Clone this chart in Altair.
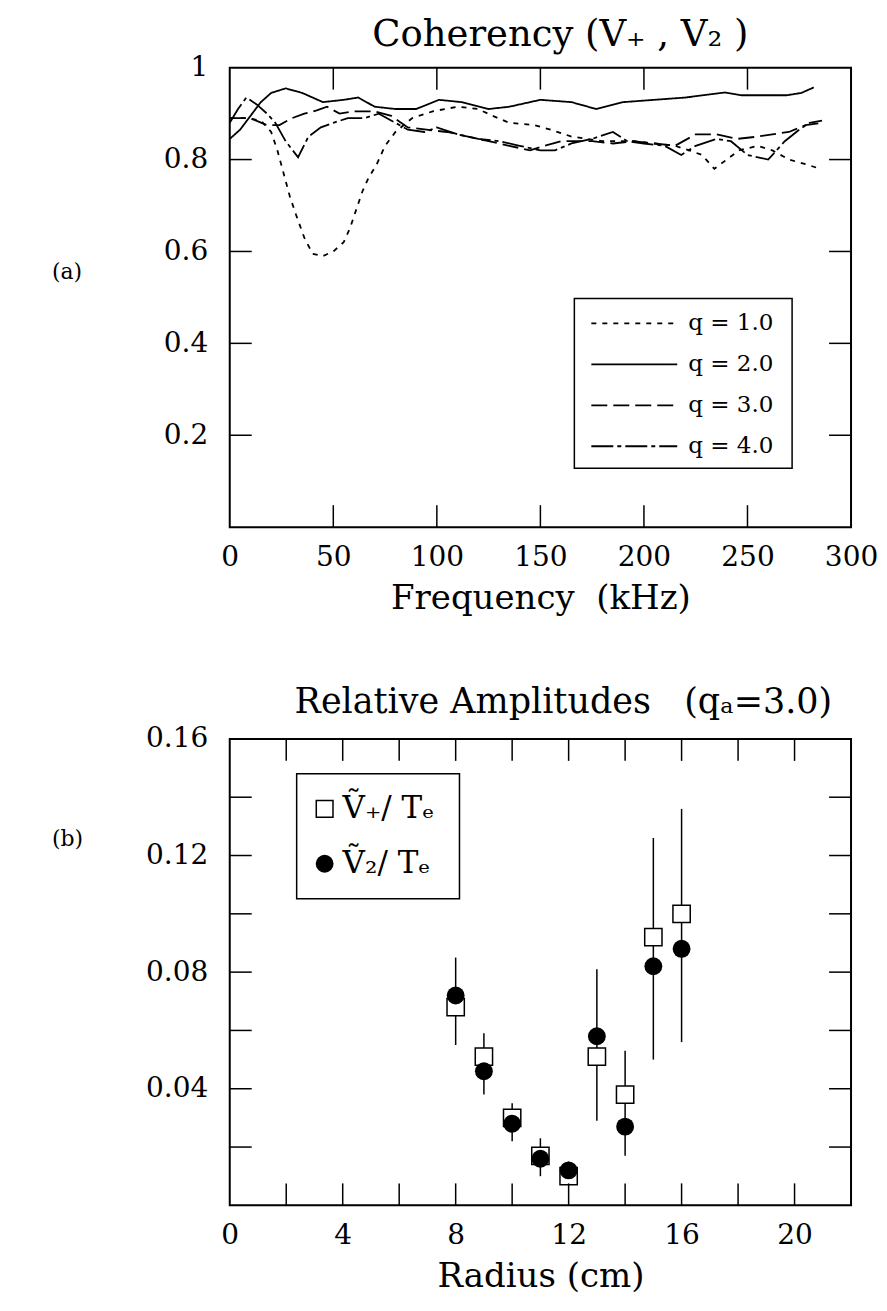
import altair as alt
import pandas as pd

FONT = "DejaVu Serif"

# ---------------- (a) Coherency (V+, V2) ----------------
series_labels = ["q = 1.0", "q = 2.0", "q = 3.0", "q = 4.0"]

q1_f = [0, 8, 15, 20, 23, 26, 29, 32, 36, 40, 45, 50, 55, 58, 61, 64, 67, 71, 75, 80,
        88, 98, 110, 120, 127, 135, 147, 155, 165, 180, 195, 205, 215, 222, 228, 234,
        240, 246, 255, 262, 270, 278, 285]
q1_v = [0.89, 0.89, 0.885, 0.86, 0.82, 0.77, 0.72, 0.68, 0.63, 0.595, 0.59, 0.60, 0.62,
        0.65, 0.69, 0.73, 0.76, 0.79, 0.83, 0.86, 0.89, 0.905, 0.915, 0.91, 0.895, 0.88,
        0.875, 0.865, 0.85, 0.84, 0.84, 0.835, 0.83, 0.82, 0.81, 0.78, 0.80, 0.82, 0.83,
        0.82, 0.80, 0.79, 0.78]

q2_f = [0, 5, 10, 15, 20, 27, 35, 45, 55, 62, 70, 80, 90, 101, 112, 125, 135, 150, 165,
        177, 190, 205, 220, 239, 247, 258, 269, 276, 282]
q2_v = [0.845, 0.865, 0.895, 0.925, 0.945, 0.955, 0.945, 0.925, 0.93, 0.935, 0.915, 0.91,
        0.91, 0.93, 0.925, 0.91, 0.915, 0.93, 0.925, 0.91, 0.925, 0.93, 0.935, 0.946, 0.94,
        0.94, 0.94, 0.945, 0.957]

q3_f = [0, 10, 18, 24, 30, 36, 42, 47, 53, 60, 70, 78, 86, 95, 105, 115, 125, 135, 145,
        152, 160, 175, 185, 195, 205, 215, 225, 235, 245, 255, 262, 270, 278, 286]
q3_v = [0.89, 0.89, 0.875, 0.875, 0.89, 0.90, 0.907, 0.915, 0.90, 0.905, 0.905, 0.895,
        0.87, 0.865, 0.86, 0.85, 0.84, 0.83, 0.82, 0.83, 0.84, 0.84, 0.835, 0.84, 0.835,
        0.83, 0.855, 0.855, 0.845, 0.85, 0.855, 0.86, 0.875, 0.88]

q4_f = [0, 4, 8, 13, 18, 22, 27, 33, 38, 44, 50, 57, 65, 72, 80, 86, 94, 100, 110, 120,
        130, 140, 150, 157, 165, 175, 185, 192, 200, 210, 218, 225, 235, 242, 250, 260,
        268, 275, 280, 286]
q4_v = [0.88, 0.91, 0.935, 0.92, 0.90, 0.88, 0.84, 0.805, 0.85, 0.87, 0.88, 0.89, 0.89,
        0.90, 0.88, 0.865, 0.86, 0.87, 0.855, 0.845, 0.84, 0.83, 0.82, 0.82, 0.835, 0.845,
        0.86, 0.84, 0.835, 0.83, 0.81, 0.83, 0.845, 0.84, 0.81, 0.80, 0.84, 0.865, 0.88,
        0.885]

freq_labels = [0, 50, 100, 150, 200, 250, 300]
freq_ticks = [50, 100, 150, 200, 250]
coh_labels = [0.2, 0.4, 0.6, 0.8, 1.0]
coh_ticks = [0.2, 0.4, 0.6, 0.8]

# ---------------- (b) Relative amplitudes ----------------
radius = [8, 9, 10, 11, 12, 13, 14, 15, 16]
vplus_te = [0.068, 0.051, 0.030, 0.017, 0.010, 0.051, 0.038, 0.092, 0.100]
v2_te = [0.072, 0.046, 0.028, 0.016, 0.012, 0.058, 0.027, 0.082, 0.088]
err_lo = [0.055, 0.038, 0.022, 0.010, 0.008, 0.029, 0.017, 0.050, 0.056]
err_hi = [0.085, 0.059, 0.035, 0.023, 0.015, 0.081, 0.053, 0.126, 0.136]

rad_labels = [0, 4, 8, 12, 16, 20]
rad_ticks = [2, 4, 6, 8, 10, 12, 14, 16, 18, 20]
amp_labels = [0.04, 0.08, 0.12, 0.16]
amp_ticks = [0.02, 0.04, 0.06, 0.08, 0.10, 0.12, 0.14]

# ---------------- styles ----------------
dash_styles = [[5, 6], [1, 0], [16, 6], [22, 4, 4, 4]]
W = 622
H1 = 460
H2 = 467
TICK = 22

rows = []
for lab, fs, vs in zip(series_labels, [q1_f, q2_f, q3_f, q4_f], [q1_v, q2_v, q3_v, q4_v]):
    for i, (f, v) in enumerate(zip(fs, vs)):
        rows.append({"q": lab, "f": f, "v": v, "i": i})
coh = pd.DataFrame(rows)
one = pd.DataFrame({"a": [0]})


def axis_common(**kw):
    base = dict(ticks=False, domain=False, grid=False, labelFont=FONT, labelFontSize=28,
                titleFont=FONT, titleFontSize=34, titleFontWeight="normal",
                labelColor="black", titleColor="black", labelFlush=False)
    base.update(kw)
    return alt.Axis(**base)


def text_at(txt, x, y, size, align="left"):
    return alt.Chart(one).mark_text(align=align, baseline="middle", font=FONT, fontSize=size,
                                    color="black").encode(
        x=alt.value(x), y=alt.value(y), text=alt.value(txt))


xa = alt.X("f:Q", scale=alt.Scale(domain=[0, 300], nice=False),
           axis=axis_common(values=freq_labels, title="Frequency\u00a0\u00a0(kHz)",
                            labelPadding=16, titlePadding=10))
ya = alt.Y("v:Q", scale=alt.Scale(domain=[0, 1], nice=False),
           axis=axis_common(values=coh_labels, title=None, labelPadding=22,
                            labelExpr="datum.value == 1 ? '1' : format(datum.value, '.1f')"))

lines = alt.Chart(coh).mark_line(color="black", strokeWidth=1.8).encode(
    x=xa, y=ya,
    strokeDash=alt.StrokeDash("q:N", scale=alt.Scale(domain=series_labels, range=dash_styles),
                              legend=None),
    detail="q:N", order="i:Q")

fx = pd.DataFrame({"t": freq_ticks})
fy = pd.DataFrame({"t": coh_ticks})
rk = dict(color="black", strokeWidth=1.5)
top_ticks = [
    alt.Chart(fx).mark_rule(**rk).encode(x="t:Q", y=alt.value(H1), y2=alt.value(H1 - TICK)),
    alt.Chart(fx).mark_rule(**rk).encode(x="t:Q", y=alt.value(0), y2=alt.value(TICK)),
    alt.Chart(fy).mark_rule(**rk).encode(y="t:Q", x=alt.value(0), x2=alt.value(TICK)),
    alt.Chart(fy).mark_rule(**rk).encode(y="t:Q", x=alt.value(W), x2=alt.value(W - TICK)),
]

leg_box = alt.Chart(one).mark_rect(fill="white", stroke="black", strokeWidth=1.5).encode(
    x=alt.value(345), x2=alt.value(563), y=alt.value(231), y2=alt.value(401))
leg_layers = [leg_box]
for k, (lab, dash) in enumerate(zip(series_labels, dash_styles)):
    yy = 256 + 41 * k
    leg_layers.append(alt.Chart(one).mark_rule(color="black", strokeWidth=1.8, strokeDash=dash).encode(
        x=alt.value(362), x2=alt.value(448), y=alt.value(yy)))
    leg_layers.append(text_at(lab, 459, yy, 23))

top = alt.layer(
    lines, *top_ticks, *leg_layers,
    text_at("(a)", -178, 205, 22),
    text_at("Coherency (V\u208a , V\u2082 )", W / 2 + 20, -33, 37, align="center"),
).properties(width=W, height=H1)

# ---------------- bottom chart ----------------
amp = pd.DataFrame({"r": radius, "vp": vplus_te, "v2": v2_te, "lo": err_lo, "hi": err_hi})
xb = alt.X("r:Q", scale=alt.Scale(domain=[0, 22], nice=False),
           axis=axis_common(values=rad_labels, title="Radius (cm)",
                            labelPadding=16, titlePadding=10))
yb = alt.Y("lo:Q", scale=alt.Scale(domain=[0, 0.16], nice=False),
           axis=axis_common(values=amp_labels, format=".2f", title=None, labelPadding=22))

bars = alt.Chart(amp).mark_rule(color="black", strokeWidth=1.5).encode(x=xb, y=yb, y2="hi:Q")
squares = alt.Chart(amp).mark_point(shape="square", filled=True, fill="white", stroke="black",
                                    strokeWidth=1.5, size=300, opacity=1).encode(
    x="r:Q", y="vp:Q")
circles = alt.Chart(amp).mark_point(shape="circle", filled=True, fill="black", size=320,
                                    opacity=1).encode(x="r:Q", y="v2:Q")

bx = pd.DataFrame({"t": rad_ticks})
by = pd.DataFrame({"t": amp_ticks})
bot_ticks = [
    alt.Chart(bx).mark_rule(**rk).encode(x="t:Q", y=alt.value(H2), y2=alt.value(H2 - TICK)),
    alt.Chart(bx).mark_rule(**rk).encode(x="t:Q", y=alt.value(0), y2=alt.value(TICK)),
    alt.Chart(by).mark_rule(**rk).encode(y="t:Q", x=alt.value(0), x2=alt.value(TICK)),
    alt.Chart(by).mark_rule(**rk).encode(y="t:Q", x=alt.value(W), x2=alt.value(W - TICK)),
]

leg2 = [
    alt.Chart(one).mark_rect(fill="white", stroke="black", strokeWidth=1.5).encode(
        x=alt.value(67), x2=alt.value(230), y=alt.value(35), y2=alt.value(160)),
    alt.Chart(one).mark_point(shape="square", filled=True, fill="white", stroke="black",
                              strokeWidth=1.5, size=280, opacity=1).encode(
        x=alt.value(95), y=alt.value(70)),
    alt.Chart(one).mark_point(shape="circle", filled=True, fill="black", size=320,
                              opacity=1).encode(x=alt.value(95), y=alt.value(125)),
    text_at("\u1e7c\u208a/ T\u2091", 113, 70, 31),
    text_at("\u1e7c\u2082/ T\u2091", 113, 125, 31),
]

bottom = alt.layer(
    bars, squares, circles, *bot_ticks, *leg2,
    text_at("(b)", -178, 100, 22),
    text_at("Relative Amplitudes\u00a0\u00a0\u00a0(q\u2090=3.0)", W / 2 + 23, -37, 35,
            align="center"),
).properties(width=W, height=H2)

chart = alt.vconcat(top, bottom, spacing=212, bounds="flush").properties(
    padding={"left": 43, "top": 6, "right": 0, "bottom": 0}
).configure(background="white").configure_view(stroke="black", strokeWidth=2)

chart.save("out.html", embed_options={"renderer": "svg", "actions": False})
